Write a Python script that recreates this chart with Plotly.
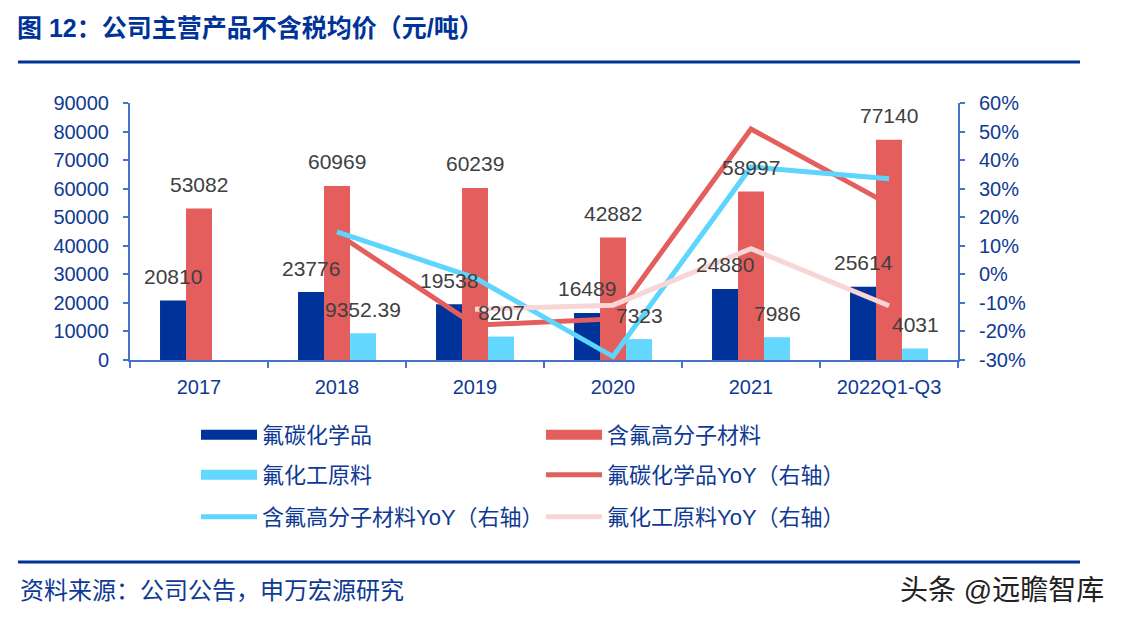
import plotly.graph_objects as go

categories = ["2017", "2018", "2019", "2020", "2021", "2022Q1-Q3"]
fluorocarbon = [20810, 23776, 19538, 16489, 24880, 25614]
fluoropolymer = [53082, 60969, 60239, 42882, 58997, 77140]
raw_material = [None, 9352.39, 8207, 7323, 7986, 4031]
fluorocarbon_yoy = [None, 14.3, -17.8, -15.6, 50.9, 24.5]
fluoropolymer_yoy = [None, 14.9, -1.2, -28.8, 37.6, 33.5]
raw_material_yoy = [None, None, -12.2, -10.8, 9.0, -11.0]

left_ticks = [0, 10000, 20000, 30000, 40000, 50000, 60000, 70000, 80000, 90000]
right_ticks = [-30, -20, -10, 0, 10, 20, 30, 40, 50, 60]
right_ticktext = [f"{v}%" for v in right_ticks]

names = ["氟碳化学品", "含氟高分子材料", "氟化工原料"]
yoy_names = ["氟碳化学品YoY（右轴）", "含氟高分子材料YoY（右轴）", "氟化工原料YoY（右轴）"]

C_DARK = "#003399"
C_RED = "#E45E5E"
C_CYAN = "#63D7FE"
C_CYAN_LINE = "#5DD5FC"
C_PINK = "#F9D6D6"
C_TEXT_BLUE = "#0F3A94"
C_AXIS = "#4A72C8"
FONT = "Liberation Sans, Arial, Noto Sans CJK SC, sans-serif"

# page offset of the plot div (body margin)
OFF = 8
W, H = 1122 - OFF, 622 - OFF
PL, PR, PT, PB = 130, 958, 103, 360  # plot area in page pixels


def px(xp):
    return (xp - PL) / (PR - PL)


def py(yp):
    return (PB - yp) / (PB - PT)


fig = go.Figure()

bar_series = [fluorocarbon, fluoropolymer, raw_material]
bar_colors = [C_DARK, C_RED, C_CYAN]
bar_legends = ["legend", "legend", "legend2"]
for i, (vals, col) in enumerate(zip(bar_series, bar_colors)):
    fig.add_trace(go.Bar(x=categories, y=vals, name=names[i], marker=dict(color=col, line=dict(width=0)),
                         showlegend=False, legendgroup=names[i], yaxis="y"))
    # legend proxy (wide rectangle like the reference)
    fig.add_trace(go.Scatter(x=[categories[0]], y=[None], mode="lines", name=names[i],
                             legendgroup=names[i], legend=bar_legends[i],
                             line=dict(color=col, width=10), yaxis="y", hoverinfo="skip"))

line_series = [fluorocarbon_yoy, fluoropolymer_yoy, raw_material_yoy]
line_colors = [C_RED, C_CYAN_LINE, C_PINK]
line_legends = ["legend2", "legend3", "legend3"]
for i, (vals, col) in enumerate(zip(line_series, line_colors)):
    fig.add_trace(go.Scatter(x=categories, y=vals, name=yoy_names[i], mode="lines",
                             line=dict(color=col, width=5), yaxis="y2", legend=line_legends[i],
                             connectgaps=False))

# data labels (x given as category index on the category axis)
offsets = [-26, 0, 26]
annotations = []
for vals, dx in zip(bar_series, offsets):
    for ci, v in enumerate(vals):
        if v is None:
            continue
        annotations.append(dict(x=ci, y=v, xref="x", yref="y", text=f"{v:g}", showarrow=False,
                                xshift=dx, yshift=24, yanchor="middle",
                                font=dict(size=21, color="#404040", family=FONT)))

# source + watermark
annotations.append(dict(x=px(18), y=py(590), xref="paper", yref="paper",
                        text="资料来源：公司公告，申万宏源研究", showarrow=False, xanchor="left",
                        yanchor="middle", font=dict(size=24, color=C_TEXT_BLUE, family=FONT)))
annotations.append(dict(x=px(1106), y=py(590), xref="paper", yref="paper",
                        text="头条 @远瞻智库", showarrow=False, xanchor="right",
                        yanchor="middle", font=dict(size=28, color="#222222", family=FONT)))

shapes = [
    dict(type="line", xref="paper", yref="paper", x0=px(18), x1=px(1080),
         y0=py(62), y1=py(62), line=dict(color=C_DARK, width=3)),
    dict(type="line", xref="paper", yref="paper", x0=px(18), x1=px(1080),
         y0=py(562), y1=py(562), line=dict(color=C_DARK, width=3)),
]

legend_common = dict(orientation="h", x=px(196), xanchor="left", yanchor="top",
                     entrywidth=274, entrywidthmode="pixels", itemwidth=56,
                     font=dict(size=22, color=C_TEXT_BLUE, family=FONT), traceorder="normal",
                     bgcolor="rgba(0,0,0,0)")

fig.update_layout(
    width=W, height=H,
    margin=dict(l=PL - OFF, r=W - (PR - OFF), t=PT - OFF, b=H - (PB - OFF), autoexpand=False),
    paper_bgcolor="white", plot_bgcolor="white",
    font=dict(family=FONT, color=C_TEXT_BLUE, size=20),
    title=dict(text="<b>图 12：公司主营产品不含税均价（元/吨）</b>", xref="container", yref="container",
               x=(17 - OFF) / W, y=1 - (28 - OFF) / H, xanchor="left", yanchor="middle",
               font=dict(size=25, color=C_DARK, family=FONT)),
    barmode="group", bargap=0.435, bargroupgap=0,
    xaxis=dict(type="category", categoryorder="array", categoryarray=categories, range=[-0.5, 5.5],
               showgrid=False, showline=True, linecolor=C_AXIS, linewidth=2,
               ticks="outside", tickson="boundaries", ticklen=6, tickcolor=C_AXIS, tickwidth=2,
               tickangle=0, tickfont=dict(size=20, color=C_TEXT_BLUE), ticklabelstandoff=8),
    yaxis=dict(range=[0, 90000], tickvals=left_ticks, tickformat="d", showgrid=False, showline=True,
               linecolor=C_AXIS, linewidth=2, ticks="outside", ticklen=5, tickcolor=C_AXIS,
               tickwidth=2, tickfont=dict(size=20, color=C_TEXT_BLUE), zeroline=False,
               ticklabelstandoff=10),
    yaxis2=dict(range=[-30, 60], tickvals=right_ticks, ticktext=right_ticktext, overlaying="y",
                side="right", showgrid=False, showline=True, linecolor=C_AXIS, linewidth=2,
                ticks="outside", ticklen=5, tickcolor=C_AXIS, tickwidth=2, zeroline=False,
                tickfont=dict(size=20, color=C_TEXT_BLUE), ticklabelstandoff=10),
    legend=dict(legend_common, y=py(414)),
    legend2=dict(legend_common, y=py(454)),
    legend3=dict(legend_common, y=py(496)),
    annotations=annotations, shapes=shapes,
)

fig.write_html("out.html")
